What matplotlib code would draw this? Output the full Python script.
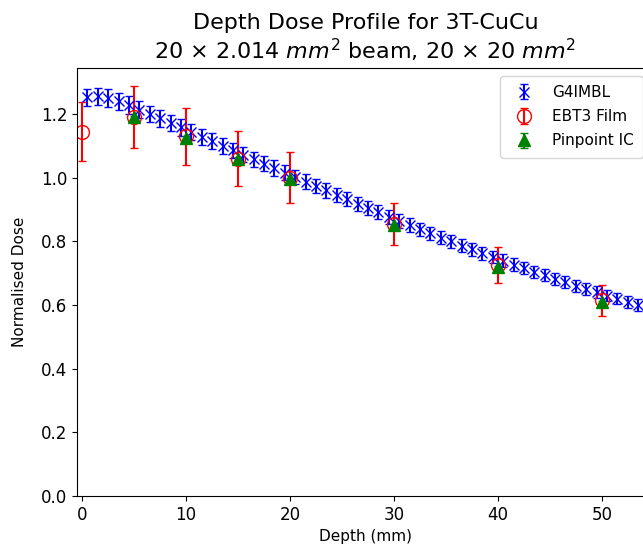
import numpy as np
import matplotlib
matplotlib.use("Agg")
import matplotlib.pyplot as plt

# ---- data ----
sim_depth = [0.5, 1.5, 2.5, 3.5, 4.5, 5.5, 6.5, 7.5, 8.5, 9.5,
             10.5, 11.5, 12.5, 13.5, 14.5, 15.5, 16.5, 17.5, 18.5, 19.5,
             20.5, 21.5, 22.5, 23.5, 24.5, 25.5, 26.5, 27.5, 28.5, 29.5,
             30.5, 31.5, 32.5, 33.5, 34.5, 35.5, 36.5, 37.5, 38.5, 39.5,
             40.5, 41.5, 42.5, 43.5, 44.5, 45.5, 46.5, 47.5, 48.5, 49.5,
             50.5, 51.5, 52.5, 53.5, 54.5]
sim_dose = [1.252, 1.255, 1.250, 1.240, 1.228, 1.213, 1.200, 1.186, 1.172, 1.158,
            1.143, 1.128, 1.114, 1.100, 1.086, 1.072, 1.058, 1.044, 1.030, 1.016,
            1.002, 0.988, 0.974, 0.960, 0.946, 0.932, 0.918, 0.904, 0.891, 0.878,
            0.864, 0.851, 0.838, 0.825, 0.812, 0.800, 0.787, 0.775, 0.763, 0.751,
            0.739, 0.727, 0.716, 0.705, 0.694, 0.683, 0.672, 0.661, 0.650, 0.640,
            0.630, 0.620, 0.610, 0.600, 0.590]
sim_err = [0.028, 0.028, 0.028, 0.027, 0.027, 0.027, 0.026, 0.026, 0.026, 0.026,
           0.025, 0.025, 0.025, 0.025, 0.024, 0.024, 0.024, 0.024, 0.024, 0.023,
           0.023, 0.023, 0.023, 0.023, 0.022, 0.022, 0.022, 0.022, 0.022, 0.022,
           0.021, 0.021, 0.021, 0.021, 0.021, 0.021, 0.020, 0.020, 0.020, 0.020,
           0.020, 0.020, 0.020, 0.019, 0.019, 0.019, 0.019, 0.019, 0.019, 0.019,
           0.018, 0.018, 0.018, 0.018, 0.018]

film_depth = [0, 5, 10, 15, 20, 30, 40, 50]
film_dose = [1.145, 1.19, 1.13, 1.06, 1.0, 0.855, 0.725, 0.615]
film_err = [0.092, 0.098, 0.09, 0.086, 0.08, 0.066, 0.057, 0.049]

ic_depth = [5, 10, 15, 20, 30, 40, 50]
ic_dose = [1.19, 1.125, 1.06, 0.995, 0.85, 0.72, 0.61]
ic_err = [0.005, 0.005, 0.005, 0.005, 0.005, 0.004, 0.004]

# ---- plot ----
fig = plt.figure(figsize=(6.43, 5.47), dpi=100)
# axes run a bit past the right edge, like the cropped original
ax = fig.add_axes([0.1198, 0.093, 0.897, 0.783])

ax.errorbar(sim_depth, sim_dose, yerr=sim_err, fmt='x', color='blue',
            ms=7, capsize=3, label='G4IMBL')
ax.errorbar(film_depth, film_dose, yerr=film_err, fmt='o', color='red',
            mfc='none', ms=10, capsize=3, label='EBT3 Film')
ax.errorbar(ic_depth, ic_dose, yerr=ic_err, fmt='^', color='green',
            ms=9, capsize=3, label='Pinpoint IC')

ax.set_xlim(-0.5, 55)
ax.set_ylim(0, 1.345)
ax.set_yticks(np.arange(0, 1.3, 0.2))
ax.tick_params(labelsize=12)
ax.set_xlabel('Depth (mm)', fontsize=11)
ax.set_ylabel('Normalised Dose', fontsize=11, labelpad=10)
ax.set_title('Depth Dose Profile for 3T-CuCu\n'
             r'20 $\times$ 2.014 $mm^2$ beam, 20 $\times$ 20 $mm^2$', fontsize=16)

ax.legend(loc='upper left', bbox_to_anchor=(500 / 643, 1 - 76 / 547),
          bbox_transform=fig.transFigure, borderaxespad=0,
          fontsize=11, borderpad=0.6, labelspacing=0.6)

fig.savefig('out.png', dpi=100)
